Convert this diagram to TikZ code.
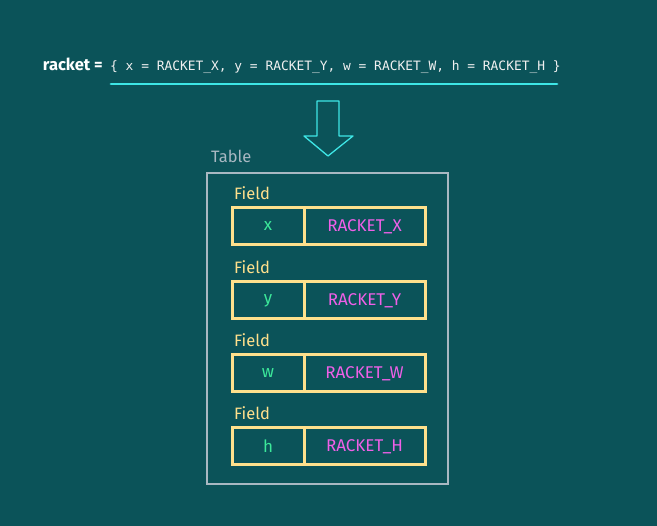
\documentclass[tikz,border=0pt]{standalone}
\usepackage{fontspec}
\setmainfont{Fira Sans}
\setmonofont{DejaVu Sans Mono}
\definecolor{bgteal}{HTML}{0B5359}
\definecolor{cyanline}{HTML}{3EE6E6}
\definecolor{fieldyellow}{HTML}{FFE08C}
\definecolor{keygreen}{HTML}{3CE89A}
\definecolor{valpink}{HTML}{F060E8}
\definecolor{framegrey}{HTML}{A9B8C2}
\begin{document}
\begin{tikzpicture}[x=1pt,y=-1pt,
  keybox/.style={draw=fieldyellow,line width=3pt,minimum width=72pt,minimum height=37pt,inner sep=0pt,text=keygreen,font=\fontsize{17}{19}\selectfont},
  valbox/.style={draw=fieldyellow,line width=3pt,minimum width=121pt,minimum height=37pt,inner sep=0pt,text=valpink,font=\fontsize{17}{19}\selectfont},
  fieldlbl/.style={anchor=base west,inner sep=0pt,text=fieldyellow,font=\fontsize{16.5}{18}\selectfont}]
\fill[bgteal](0,0)rectangle(657,526);
% top line
\node (racketlbl) at (103,71) [anchor=base east,inner sep=0pt,text=white,font=\fontsize{16.5}{18}\selectfont\bfseries]{racket =};
\node (racketval) at (110,71) [anchor=base west,inner sep=0pt,text=white!94!black,font=\fontsize{12.9}{16}\ttfamily]{\{ x = RACKET\_X, y = RACKET\_Y, w = RACKET\_W, h = RACKET\_H \}};
\coordinate (ulstart) at (111,84);
\coordinate (ulend) at (557,84);
\draw [line width=2.8pt][line cap=round][cyanline](ulstart)--(ulend);
% arrow
\draw [line width=1.3pt][line join=round][cyanline](317,101)--(339,101)--(339,136)--(353,136)--(328,156)--(304,136)--(317,136)--cycle;
% table
\node (tablelbl) at (211,163) [anchor=base west,inner sep=0pt,text=framegrey,font=\fontsize{16.5}{18}\selectfont]{Table};
\draw [line width=2.6pt][framegrey](207,173)rectangle(448,484);
% fields
\node (fldx) at (234,200) [fieldlbl]{Field};
\node (keyx) at (268,226.5) [keybox]{x};
\node (valx) at (364.5,226.5) [valbox]{RACKET\_X};
\node (fldy) at (234,274) [fieldlbl]{Field};
\node (keyy) at (268,300.5) [keybox]{y};
\node (valy) at (364.5,300.5) [valbox]{RACKET\_Y};
\node (fldw) at (234,347) [fieldlbl]{Field};
\node (keyw) at (268,373.5) [keybox]{w};
\node (valw) at (364.5,373.5) [valbox]{RACKET\_W};
\node (fldh) at (234,420) [fieldlbl]{Field};
\node (keyh) at (268,446.5) [keybox]{h};
\node (valh) at (364.5,446.5) [valbox]{RACKET\_H};
\end{tikzpicture}
\end{document}
